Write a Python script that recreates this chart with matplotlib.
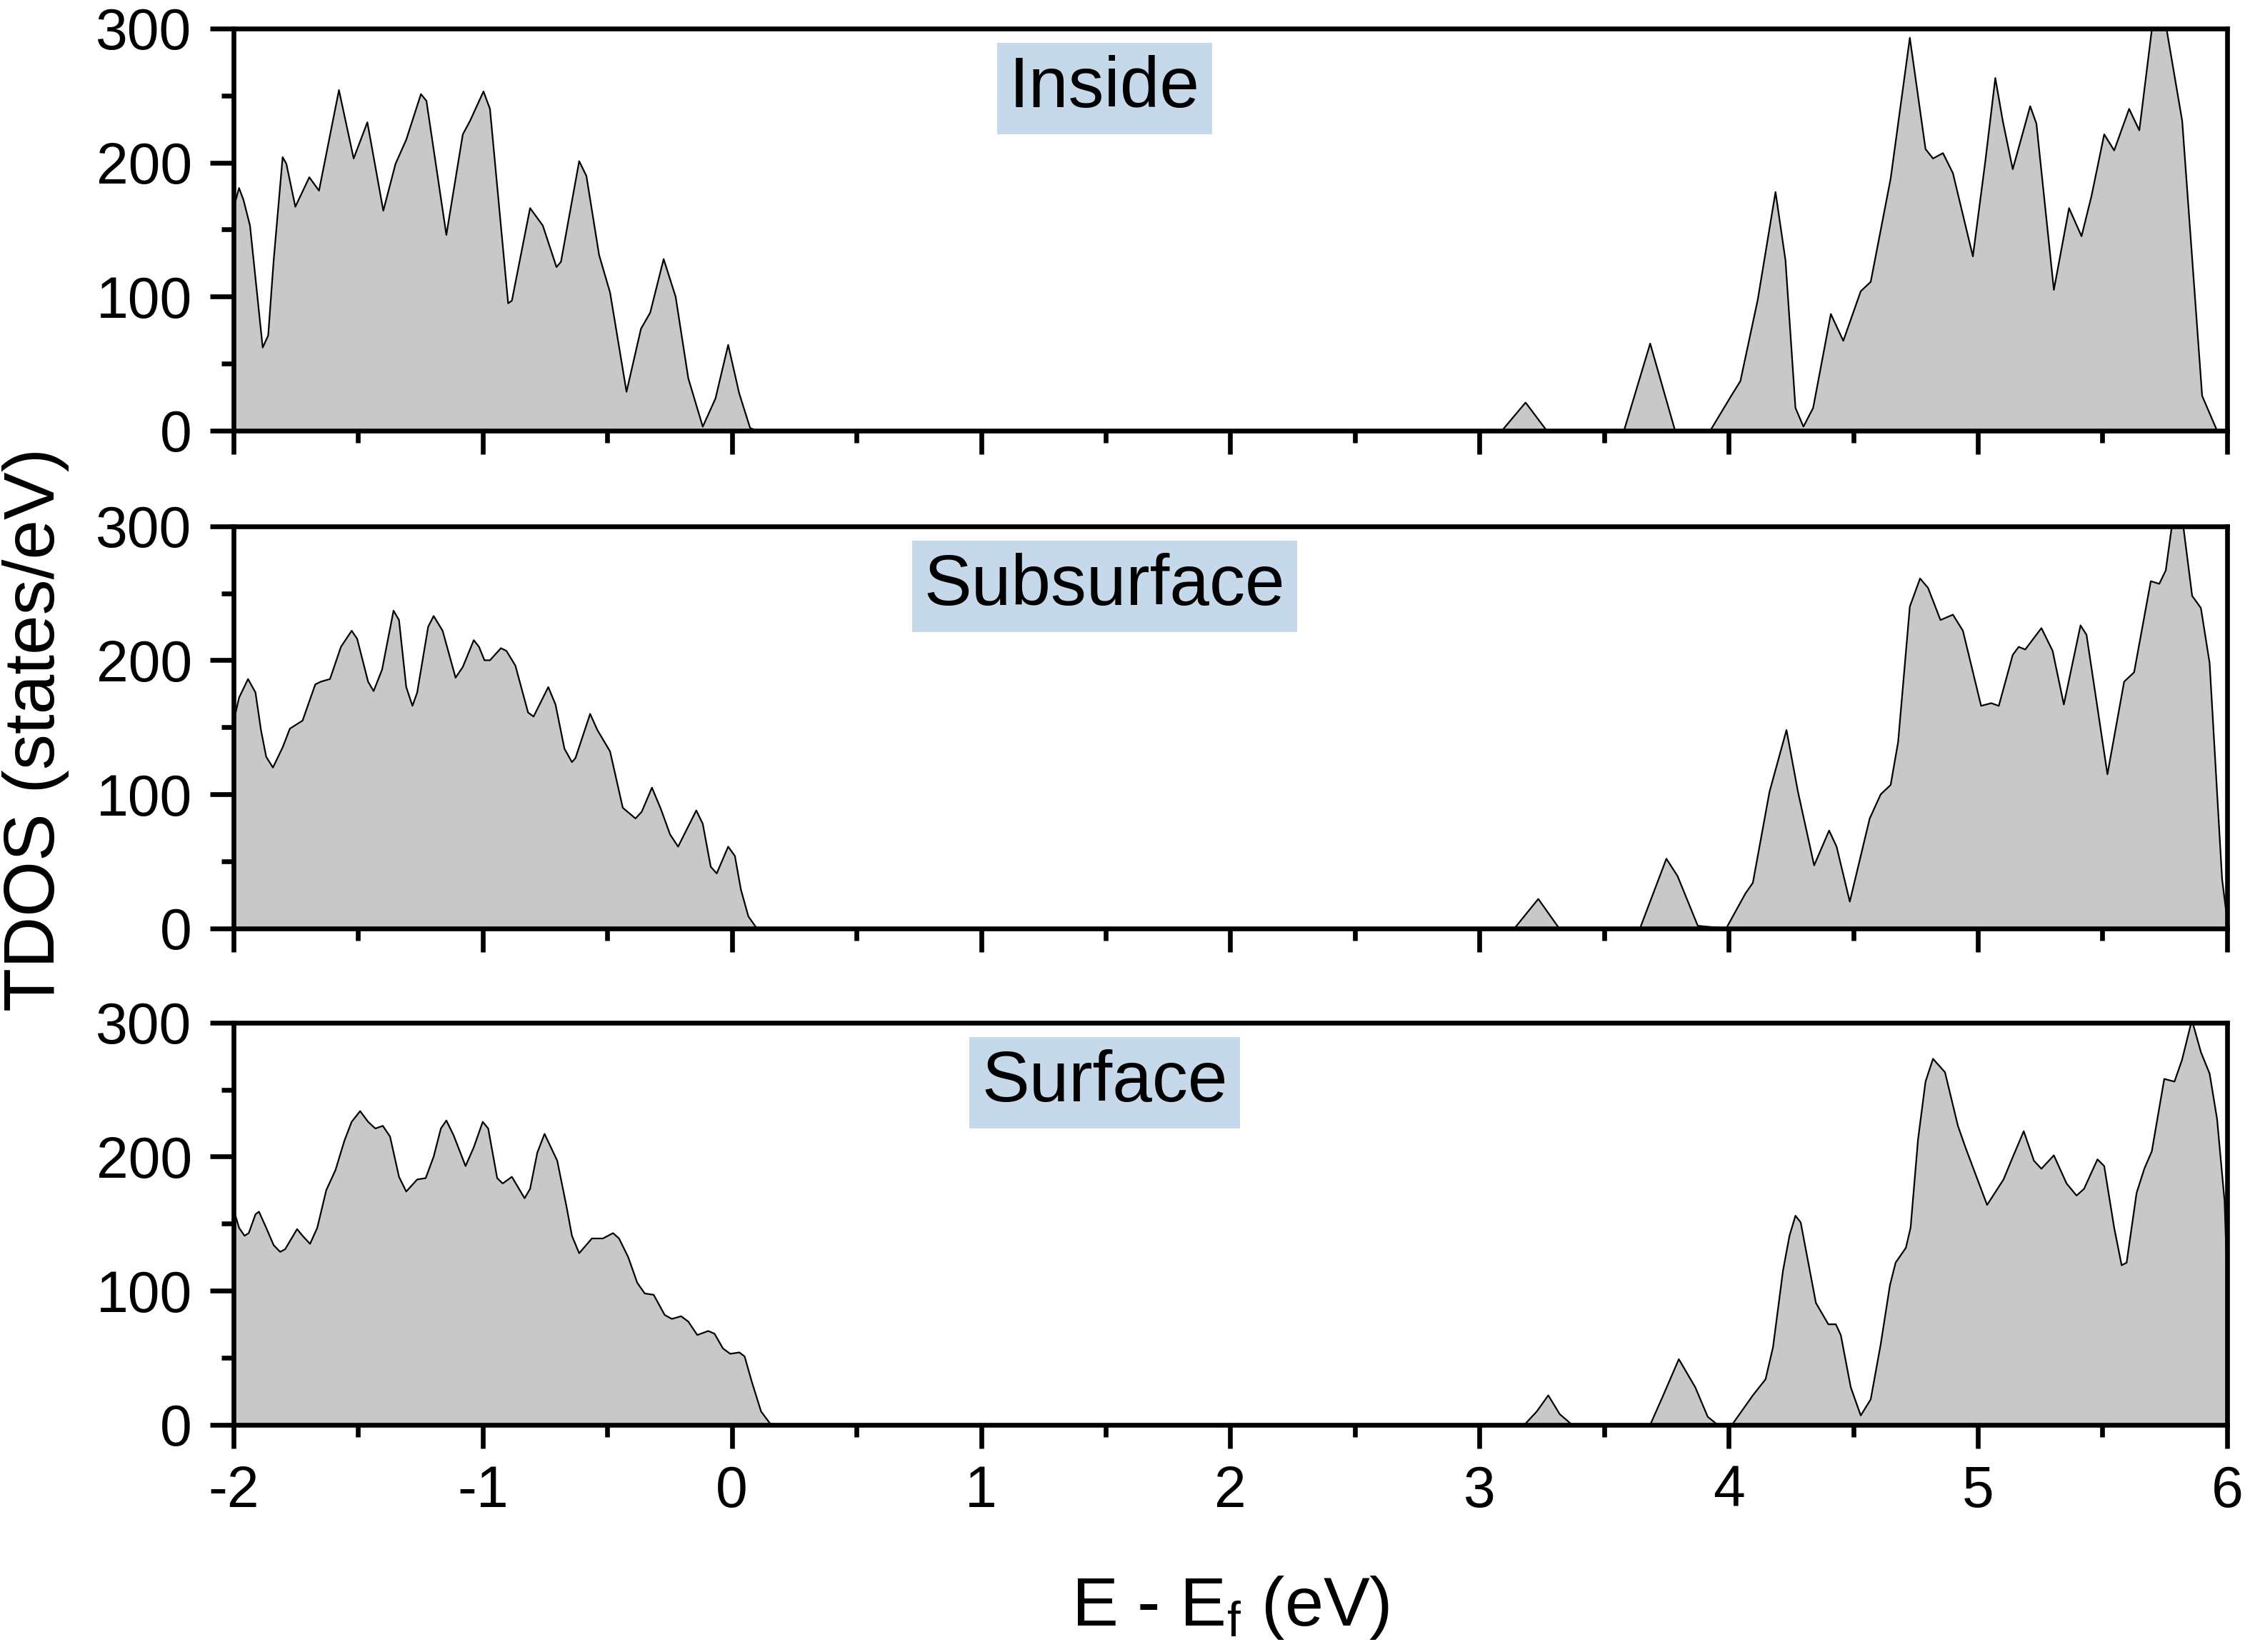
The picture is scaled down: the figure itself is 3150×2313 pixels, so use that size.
import numpy as np
import matplotlib.pyplot as plt
from matplotlib.ticker import MultipleLocator

plt.rcParams["font.family"] = ["Liberation Sans", "DejaVu Sans"]
plt.rcParams["mathtext.fontset"] = "custom"
plt.rcParams["mathtext.rm"] = "Liberation Sans"

# Energy (eV) and TDOS (states/eV)
inside_x = [-2.0, -1.978, -1.96, -1.934, -1.883, -1.861, -1.839, -1.803, -1.788, -1.752,
            -1.696, -1.657, -1.577, -1.518, -1.463, -1.399, -1.35, -1.307, -1.248, -1.226,
            -1.146, -1.08, -1.051, -0.997, -0.971, -0.898, -0.883, -0.81, -0.759, -0.704,
            -0.686, -0.613, -0.584, -0.533, -0.489, -0.423, -0.365, -0.328, -0.274, -0.226,
            -0.175, -0.117, -0.066, -0.015, 0.029, 0.073, 0.10,
            3.09, 3.185, 3.27, 3.58, 3.685, 3.785, 3.926, 4.007, 4.047, 4.117,
            4.188, 4.228, 4.268, 4.30, 4.339, 4.41, 4.46, 4.53, 4.57, 4.65,
            4.727, 4.79, 4.82, 4.86, 4.90, 4.98, 5.03, 5.07, 5.10, 5.14,
            5.21, 5.235, 5.305, 5.366, 5.416, 5.456, 5.507, 5.547, 5.607, 5.648,
            5.70, 5.728, 5.755, 5.82, 5.90, 5.96, 6.0]
inside_y = [166, 181, 172, 153, 62, 71, 127, 204, 199, 167,
            189, 179, 254, 203, 230, 164, 199, 217, 251, 246,
            146, 221, 231, 253, 240, 95, 97, 166, 153, 122,
            126, 201, 190, 131, 103, 29, 76, 88, 128, 100,
            39, 3, 24, 64, 28, 2, 0,
            0, 21, 0, 0, 65, 0, 0, 25, 37, 98,
            178, 127, 17, 3, 17, 87, 67, 104, 111, 188,
            293, 210, 203, 207, 192, 130, 201, 263, 231, 195,
            242, 229, 105, 166, 145, 175, 221, 209, 240, 224,
            302, 318, 302, 231, 26, 0, 0]

subsurface_x = [-2.0, -1.978, -1.942, -1.912, -1.89, -1.869, -1.842, -1.803, -1.774, -1.723,
                -1.672, -1.65, -1.613, -1.569, -1.526, -1.504, -1.46, -1.438, -1.404, -1.358,
                -1.336, -1.307, -1.282, -1.263, -1.219, -1.197, -1.161, -1.109, -1.08, -1.036,
                -1.015, -0.993, -0.971, -0.927, -0.905, -0.869, -0.818, -0.796, -0.737, -0.708,
                -0.672, -0.642, -0.628, -0.569, -0.54, -0.489, -0.438, -0.387, -0.362, -0.321,
                -0.285, -0.248, -0.216, -0.143, -0.117, -0.085, -0.061, -0.015, 0.012, 0.036,
                0.066, 0.10,
                3.14, 3.236, 3.32, 3.644, 3.75, 3.795, 3.876, 3.99, 4.067, 4.097,
                4.164, 4.232, 4.278, 4.343, 4.403, 4.433, 4.486, 4.566, 4.61, 4.65,
                4.68, 4.727, 4.768, 4.80, 4.85, 4.90, 4.94, 5.013, 5.054, 5.084,
                5.14, 5.164, 5.19, 5.255, 5.30, 5.345, 5.412, 5.436, 5.52, 5.587,
                5.627, 5.694, 5.728, 5.754, 5.78, 5.80, 5.823, 5.86, 5.895, 5.93,
                5.98, 6.0]
subsurface_y = [154, 172, 186, 176, 148, 128, 120, 135, 149, 155,
                182, 184, 186, 210, 222, 216, 184, 177, 193, 237,
                230, 180, 166, 176, 225, 233, 222, 187, 195, 215,
                210, 200, 200, 209, 207, 196, 161, 158, 180, 167,
                134, 124, 127, 160, 148, 132, 90, 82, 87, 105,
                89, 70, 61, 88, 78, 46, 41, 61, 54, 29,
                9, 0,
                0, 22, 0, 0, 52, 39, 2, 0, 26, 34,
                102, 148, 102, 47, 73, 61, 20, 82, 100, 107,
                139, 240, 261, 254, 230, 234, 222, 166, 168, 166,
                204, 210, 208, 224, 207, 167, 226, 219, 115, 184,
                191, 259, 257, 267, 302, 315, 302, 248, 239, 198,
                37, 7]

surface_x = [-2.0, -1.978, -1.956, -1.939, -1.912, -1.898, -1.869, -1.839, -1.813, -1.793,
             -1.745, -1.723, -1.693, -1.664, -1.628, -1.591, -1.555, -1.526, -1.492, -1.46,
             -1.431, -1.401, -1.372, -1.336, -1.307, -1.263, -1.229, -1.197, -1.168, -1.146,
             -1.117, -1.069, -1.036, -1.0, -0.978, -0.942, -0.92, -0.883, -0.832, -0.81,
             -0.781, -0.752, -0.701, -0.664, -0.642, -0.613, -0.562, -0.518, -0.477, -0.453,
             -0.416, -0.38, -0.35, -0.314, -0.27, -0.241, -0.204, -0.175, -0.139, -0.095,
             -0.07, -0.036, -0.007, 0.03, 0.051, 0.08, 0.117, 0.153, 0.18,
             3.18, 3.23, 3.276, 3.322, 3.372, 3.685, 3.735, 3.80, 3.866, 3.916,
             3.956, 4.017, 4.097, 4.148, 4.178, 4.218, 4.244, 4.268, 4.289, 4.35,
             4.40, 4.43, 4.45, 4.49, 4.53, 4.57, 4.61, 4.647, 4.67, 4.711,
             4.73, 4.76, 4.79, 4.82, 4.868, 4.92, 4.95, 5.037, 5.103, 5.134,
             5.184, 5.225, 5.255, 5.305, 5.356, 5.396, 5.426, 5.48, 5.507, 5.547,
             5.577, 5.597, 5.637, 5.668, 5.698, 5.748, 5.789, 5.819, 5.859, 5.895,
             5.93, 5.96, 5.99, 6.0]
surface_y = [161, 147, 141, 143, 157, 159, 147, 134, 129, 131,
             146, 141, 135, 147, 175, 190, 212, 226, 234, 226,
             221, 223, 215, 185, 174, 183, 184, 200, 221, 227,
             216, 193, 207, 226, 221, 184, 180, 185, 169, 176,
             203, 217, 197, 163, 141, 128, 139, 139, 143, 139,
             125, 106, 98, 97, 82, 79, 81, 77, 67, 70,
             68, 57, 53, 54, 51, 32, 10, 1, 0,
             0, 10, 22, 8, 0, 0, 21, 49, 28, 6,
             0, 1, 22, 34, 58, 115, 141, 156, 151, 91,
             75, 75, 67, 28, 7, 19, 60, 104, 121, 132,
             147, 213, 256, 273, 263, 223, 207, 164, 183, 197,
             219, 197, 191, 201, 180, 171, 176, 198, 193, 147,
             119, 121, 173, 191, 204, 258, 256, 272, 302, 278,
             262, 228, 167, 110]

panel_names = ["Inside", "Subsurface", "Surface"]
panel_data = [(inside_x, inside_y), (subsurface_x, subsurface_y), (surface_x, surface_y)]

fig = plt.figure(figsize=(15.75, 11.565), dpi=200)

left, width, height = 0.1038, 0.886, 0.2435
bottoms = [0.7393, 0.4380, 0.1375]

for i, (name, (xs, ys)) in enumerate(zip(panel_names, panel_data)):
    ax = fig.add_axes([left, bottoms[i], width, height])
    xs = np.array(xs)
    ys = np.array(ys)
    ax.fill_between(xs, 0, ys, color="#c8c8c8", lw=0)
    ax.plot(xs, ys, color="black", lw=0.8)

    ax.set_xlim(-2, 6)
    ax.set_ylim(0, 300)
    ax.xaxis.set_major_locator(MultipleLocator(1))
    ax.xaxis.set_minor_locator(MultipleLocator(0.5))
    ax.yaxis.set_major_locator(MultipleLocator(100))
    ax.yaxis.set_minor_locator(MultipleLocator(50))
    ax.tick_params(which="both", direction="out", width=2.4, top=False, right=False)
    ax.tick_params(which="major", length=12)
    ax.tick_params(which="minor", length=6)
    ax.tick_params(axis="y", labelsize=29, pad=9)
    ax.tick_params(axis="x", labelsize=29, pad=8)
    for sp in ax.spines.values():
        sp.set_linewidth(2.4)
    if i < 2:
        ax.tick_params(axis="x", labelbottom=False)
    else:
        ax.set_xticks(range(-2, 7))
        ax.set_xticklabels([str(v) for v in range(-2, 7)])

    ax.text(0.437, 0.85, name, transform=ax.transAxes, ha="center", va="center",
            fontsize=36,
            bbox=dict(boxstyle="square,pad=0.17", facecolor="#c6d9ea", edgecolor="none"))

fig.text(0.016, 0.5586, "TDOS (states/eV)", rotation=90, ha="center", va="center",
         fontsize=36)
fig.text(0.547, 0.016, r"E - E$_{\mathregular{f}}$ (eV)", ha="center", va="baseline",
         fontsize=35)

fig.savefig("out.png", dpi=200, facecolor="white")
